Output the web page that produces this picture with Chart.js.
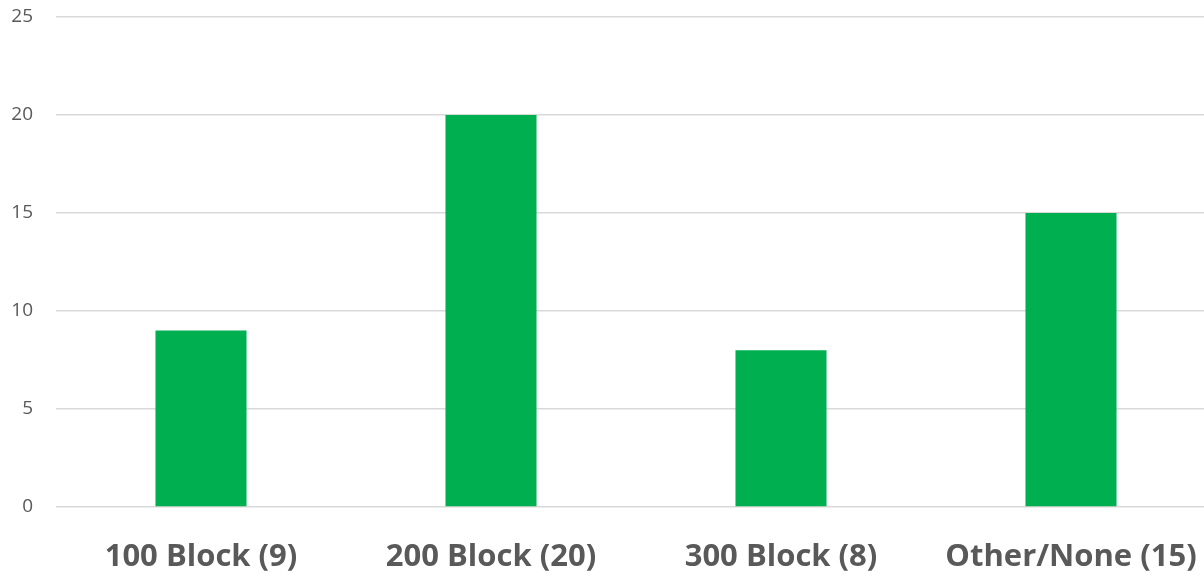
<!DOCTYPE html>
<html>
<head>
<meta charset="utf-8">
<script src="https://cdn.jsdelivr.net/npm/chart.js@4/dist/chart.umd.min.js"></script>
<style>
html,body{margin:0;padding:0;overflow:hidden;background:#fff;}
#wrap{width:1204px;height:575px;overflow:hidden;}
</style>
</head>
<body>
<div id="wrap"><canvas id="c" width="1216" height="575"></canvas></div>
<script>
const categories = ["100 Block (9)", "200 Block (20)", "300 Block (8)", "Other/None (15)"];
const values = [9, 20, 8, 15];
const yTicks = [0, 5, 10, 15, 20, 25];

new Chart(document.getElementById('c'), {
  type: 'bar',
  data: {
    labels: categories,
    datasets: [{
      data: values,
      backgroundColor: '#00B050',
      borderWidth: 0,
      categoryPercentage: 1,
      barPercentage: 0.314
    }]
  },
  options: {
    responsive: false,
    animation: false,
    layout: { padding: { left: 0, right: 0, top: 17, bottom: 0 } },
    plugins: { legend: { display: false }, tooltip: { enabled: false } },
    scales: {
      x: {
        grid: { display: false, drawTicks: false },
        border: { display: false },
        ticks: {
          color: '#595959',
          font: { family: 'Open Sans', size: 31, weight: 'bold' },
          padding: 32,
          maxRotation: 0,
          autoSkip: false
        },
        afterFit: s => { s.height = 68; s.paddingLeft = 0; s.paddingRight = 0; }
      },
      y: {
        min: 0, max: 25,
        afterBuildTicks: s => { s.ticks = yTicks.map(v => ({ value: v })); },
        grid: { color: '#d9d9d9', lineWidth: 1.5, drawTicks: false },
        border: { display: false },
        ticks: {
          color: '#595959',
          font: { family: 'Open Sans', size: 19 },
          padding: 23
        },
        afterFit: s => { s.width = 56; s.paddingTop = 0; s.paddingBottom = 0; }
      }
    }
  }
});
</script>
</body>
</html>
